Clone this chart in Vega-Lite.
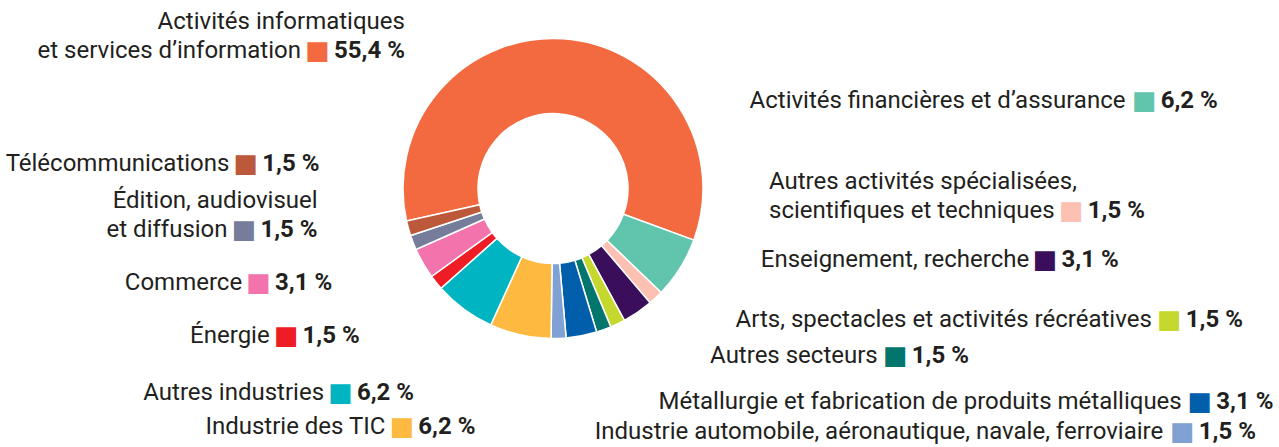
{
  "$schema": "https://vega.github.io/schema/vega-lite/v6.json",
  "width": 1106,
  "height": 377,
  "autosize": {"type": "none"},
  "padding": {"left": 0, "top": 0, "right": 173, "bottom": 70},
  "background": "#ffffff",
  "config": {
    "view": {"stroke": null},
    "text": {"font": "Roboto", "fontSize": 24, "fill": "#231F20", "baseline": "middle"}
  },
  "data": {
    "values": [
      {"k": 1, "name": "Activités informatiques\net services d’information", "share": 55.4},
      {"k": 2, "name": "Activités financières et d’assurance", "share": 6.2},
      {"k": 3, "name": "Autres activités spécialisées,\nscientifiques et techniques", "share": 1.5},
      {"k": 4, "name": "Enseignement, recherche", "share": 3.1},
      {"k": 5, "name": "Arts, spectacles et activités récréatives", "share": 1.5},
      {"k": 6, "name": "Autres secteurs", "share": 1.5},
      {"k": 7, "name": "Métallurgie et fabrication de produits métalliques", "share": 3.1},
      {"k": 8, "name": "Industrie automobile, aéronautique, navale, ferroviaire", "share": 1.5},
      {"k": 9, "name": "Industrie des TIC", "share": 6.2},
      {"k": 10, "name": "Autres industries", "share": 6.2},
      {"k": 11, "name": "Énergie", "share": 1.5},
      {"k": 12, "name": "Commerce", "share": 3.1},
      {"k": 13, "name": "Édition, audiovisuel\net diffusion", "share": 1.5},
      {"k": 14, "name": "Télécommunications", "share": 1.5}
    ]
  },
  "resolve": {"scale": {"theta": "independent"}},
  "layer": [
    {
      "mark": {"type": "arc", "innerRadius": 75, "outerRadius": 150, "stroke": "#ffffff", "strokeWidth": 1.5},
      "encoding": {
        "theta": {"field": "share", "type": "quantitative", "stack": true, "scale": {"domain": [0, 93.8], "range": [-1.789, 4.4942]}},
        "order": {"field": "k", "type": "quantitative"},
        "color": {"field": "k", "type": "ordinal", "legend": null, "scale": {"domain": [1,2,3,4,5,6,7,8,9,10,11,12,13,14], "range": ["#F46A40","#61C5AE","#FCC1B2","#3A0E5A","#C4D82E","#02766D","#005EAB","#7FA1D4","#FEB940","#00B5C1","#EE1C25","#F373AC","#757D9A","#BC593A"]}}
      }
    },
    {
      "transform": [{"filter": {"field": "k", "range": [2, 8]}}],
      "mark": {"type": "text", "radius": 246, "align": "left", "dx": -30, "dy": -6.5,
        "text": {"expr": "indexof(datum.name, '\\n') >= 0 ? substring(datum.name, 0, indexof(datum.name, '\\n')) : ''"}},
      "encoding": {
        "theta": {"field": "share", "type": "quantitative", "stack": true, "scale": {"type": "pow", "exponent": 1.15, "domain": [0, 18.4], "range": [0.9088, 2.9404]}},
        "order": {"field": "k", "type": "quantitative"},
        "detail": {"field": "k", "type": "nominal"}
      }
    },
    {
      "transform": [{"filter": {"field": "k", "range": [2, 8]}}],
      "mark": {"type": "text", "radius": 246, "align": "left", "dx": -30,
        "dy": {"expr": "indexof(datum.name, '\\n') >= 0 ? 22.5 : 8"},
        "text": {"expr": "substring(datum.name, lastindexof(datum.name, '\\n') + 1)"}},
      "encoding": {
        "theta": {"field": "share", "type": "quantitative", "stack": true, "scale": {"type": "pow", "exponent": 1.15, "domain": [0, 18.4], "range": [0.9088, 2.9404]}},
        "order": {"field": "k", "type": "quantitative"},
        "detail": {"field": "k", "type": "nominal"}
      }
    },
    {
      "transform": [{"filter": {"field": "k", "range": [2, 8]}}],
      "mark": {"type": "text", "radius": 246, "align": "center", "font": "DejaVu Sans", "fontSize": 26, "text": "■",
        "dy": {"expr": "indexof(datum.name, '\\n') >= 0 ? 22.5 : 8"},
        "dx": {"expr": "-30 + 17 + (24.6/2048) * (1100*length(substring(datum.name, lastindexof(datum.name, '\\n') + 1)) - 614*(length(split(substring(datum.name, lastindexof(datum.name, '\\n') + 1), regexp('[ilj]'))) - 1) - 603*(length(split(substring(datum.name, lastindexof(datum.name, '\\n') + 1), ' ')) - 1) - 707*(length(split(substring(datum.name, lastindexof(datum.name, '\\n') + 1), regexp('[,’]'))) - 1) - 423*(length(split(substring(datum.name, lastindexof(datum.name, '\\n') + 1), regexp('[tfr]'))) - 1) + 653*(length(split(substring(datum.name, lastindexof(datum.name, '\\n') + 1), 'm')) - 1) + 402*(length(split(substring(datum.name, lastindexof(datum.name, '\\n') + 1), 'w')) - 1) - 105*(length(split(substring(datum.name, lastindexof(datum.name, '\\n') + 1), regexp('[ckvxyz]'))) - 1) - 55*(length(split(substring(datum.name, lastindexof(datum.name, '\\n') + 1), regexp('[eséèêë]'))) - 1) + 25*(length(split(substring(datum.name, lastindexof(datum.name, '\\n') + 1), regexp('[bdgpqo]'))) - 1) + 236*(length(split(substring(datum.name, lastindexof(datum.name, '\\n') + 1), 'A')) - 1) + 64*(length(split(substring(datum.name, lastindexof(datum.name, '\\n') + 1), 'E')) - 1) + 688*(length(split(substring(datum.name, lastindexof(datum.name, '\\n') + 1), 'M')) - 1) - 543*(length(split(substring(datum.name, lastindexof(datum.name, '\\n') + 1), 'I')) - 1))"}},
      "encoding": {
        "theta": {"field": "share", "type": "quantitative", "stack": true, "scale": {"type": "pow", "exponent": 1.15, "domain": [0, 18.4], "range": [0.9088, 2.9404]}},
        "order": {"field": "k", "type": "quantitative"},
        "color": {"field": "k", "type": "ordinal", "legend": null, "scale": {"domain": [1,2,3,4,5,6,7,8,9,10,11,12,13,14], "range": ["#F46A40","#61C5AE","#FCC1B2","#3A0E5A","#C4D82E","#02766D","#005EAB","#7FA1D4","#FEB940","#00B5C1","#EE1C25","#F373AC","#757D9A","#BC593A"]}}
      }
    },
    {
      "transform": [{"filter": {"field": "k", "range": [2, 8]}}],
      "mark": {"type": "text", "radius": 246, "align": "left", "fontWeight": "bold",
        "dy": {"expr": "indexof(datum.name, '\\n') >= 0 ? 22.5 : 8"},
        "dx": {"expr": "-30 + 33.5 + (24.6/2048) * (1100*length(substring(datum.name, lastindexof(datum.name, '\\n') + 1)) - 614*(length(split(substring(datum.name, lastindexof(datum.name, '\\n') + 1), regexp('[ilj]'))) - 1) - 603*(length(split(substring(datum.name, lastindexof(datum.name, '\\n') + 1), ' ')) - 1) - 707*(length(split(substring(datum.name, lastindexof(datum.name, '\\n') + 1), regexp('[,’]'))) - 1) - 423*(length(split(substring(datum.name, lastindexof(datum.name, '\\n') + 1), regexp('[tfr]'))) - 1) + 653*(length(split(substring(datum.name, lastindexof(datum.name, '\\n') + 1), 'm')) - 1) + 402*(length(split(substring(datum.name, lastindexof(datum.name, '\\n') + 1), 'w')) - 1) - 105*(length(split(substring(datum.name, lastindexof(datum.name, '\\n') + 1), regexp('[ckvxyz]'))) - 1) - 55*(length(split(substring(datum.name, lastindexof(datum.name, '\\n') + 1), regexp('[eséèêë]'))) - 1) + 25*(length(split(substring(datum.name, lastindexof(datum.name, '\\n') + 1), regexp('[bdgpqo]'))) - 1) + 236*(length(split(substring(datum.name, lastindexof(datum.name, '\\n') + 1), 'A')) - 1) + 64*(length(split(substring(datum.name, lastindexof(datum.name, '\\n') + 1), 'E')) - 1) + 688*(length(split(substring(datum.name, lastindexof(datum.name, '\\n') + 1), 'M')) - 1) - 543*(length(split(substring(datum.name, lastindexof(datum.name, '\\n') + 1), 'I')) - 1))"},
        "text": {"expr": "replace(format(datum.share, '.1f'), '.', ',') + ' %'"}},
      "encoding": {
        "theta": {"field": "share", "type": "quantitative", "stack": true, "scale": {"type": "pow", "exponent": 1.15, "domain": [0, 18.4], "range": [0.9088, 2.9404]}},
        "order": {"field": "k", "type": "quantitative"},
        "detail": {"field": "k", "type": "nominal"}
      }
    },
    {
      "transform": [{"filter": {"field": "k", "range": [9, 14]}}],
      "mark": {"type": "text", "radius": 244, "align": "right", "dx": 8, "dy": -4.5,
        "text": {"expr": "indexof(datum.name, '\\n') >= 0 ? substring(datum.name, 0, indexof(datum.name, '\\n')) : ''"}},
      "encoding": {
        "theta": {"field": "share", "type": "quantitative", "stack": true, "scale": {"type": "pow", "exponent": 2, "domain": [0, 20], "range": [3.4638, 4.963]}},
        "order": {"field": "k", "type": "quantitative"},
        "detail": {"field": "k", "type": "nominal"}
      }
    },
    {
      "transform": [{"filter": {"field": "k", "range": [9, 14]}}],
      "mark": {"type": "text", "radius": 244, "align": "right", "dx": -82,
        "dy": {"expr": "indexof(datum.name, '\\n') >= 0 ? 24.5 : 10"},
        "text": {"expr": "substring(datum.name, lastindexof(datum.name, '\\n') + 1)"}},
      "encoding": {
        "theta": {"field": "share", "type": "quantitative", "stack": true, "scale": {"type": "pow", "exponent": 2, "domain": [0, 20], "range": [3.4638, 4.963]}},
        "order": {"field": "k", "type": "quantitative"},
        "detail": {"field": "k", "type": "nominal"}
      }
    },
    {
      "transform": [{"filter": {"field": "k", "range": [9, 14]}}],
      "mark": {"type": "text", "radius": 244, "align": "center", "font": "DejaVu Sans", "fontSize": 26, "text": "■", "dx": -65.5,
        "dy": {"expr": "indexof(datum.name, '\\n') >= 0 ? 24.5 : 10"}},
      "encoding": {
        "theta": {"field": "share", "type": "quantitative", "stack": true, "scale": {"type": "pow", "exponent": 2, "domain": [0, 20], "range": [3.4638, 4.963]}},
        "order": {"field": "k", "type": "quantitative"},
        "color": {"field": "k", "type": "ordinal", "legend": null, "scale": {"domain": [1,2,3,4,5,6,7,8,9,10,11,12,13,14], "range": ["#F46A40","#61C5AE","#FCC1B2","#3A0E5A","#C4D82E","#02766D","#005EAB","#7FA1D4","#FEB940","#00B5C1","#EE1C25","#F373AC","#757D9A","#BC593A"]}}
      }
    },
    {
      "transform": [{"filter": {"field": "k", "range": [9, 14]}}],
      "mark": {"type": "text", "radius": 244, "align": "right", "fontWeight": "bold", "dx": 8,
        "dy": {"expr": "indexof(datum.name, '\\n') >= 0 ? 24.5 : 10"},
        "text": {"expr": "replace(format(datum.share, '.1f'), '.', ',') + ' %'"}},
      "encoding": {
        "theta": {"field": "share", "type": "quantitative", "stack": true, "scale": {"type": "pow", "exponent": 2, "domain": [0, 20], "range": [3.4638, 4.963]}},
        "order": {"field": "k", "type": "quantitative"},
        "detail": {"field": "k", "type": "nominal"}
      }
    },
    {
      "transform": [{"filter": {"field": "k", "equal": 1}}],
      "mark": {"type": "text", "radius": 212, "align": "right", "dy": -14.5,
        "text": {"expr": "substring(datum.name, 0, indexof(datum.name, '\\n'))"}},
      "encoding": {
        "theta": {"field": "share", "type": "quantitative", "stack": true, "scale": {"domain": [0, 55.4], "range": [5.41, 5.61]}},
        "order": {"field": "k", "type": "quantitative"},
        "detail": {"field": "k", "type": "nominal"}
      }
    },
    {
      "transform": [{"filter": {"field": "k", "equal": 1}}],
      "mark": {"type": "text", "radius": 212, "align": "right", "dx": -104, "dy": 14.5,
        "text": {"expr": "substring(datum.name, lastindexof(datum.name, '\\n') + 1)"}},
      "encoding": {
        "theta": {"field": "share", "type": "quantitative", "stack": true, "scale": {"domain": [0, 55.4], "range": [5.41, 5.61]}},
        "order": {"field": "k", "type": "quantitative"},
        "detail": {"field": "k", "type": "nominal"}
      }
    },
    {
      "transform": [{"filter": {"field": "k", "equal": 1}}],
      "mark": {"type": "text", "radius": 212, "align": "center", "font": "DejaVu Sans", "fontSize": 26, "text": "■", "dx": -87.5, "dy": 14.5},
      "encoding": {
        "theta": {"field": "share", "type": "quantitative", "stack": true, "scale": {"domain": [0, 55.4], "range": [5.41, 5.61]}},
        "order": {"field": "k", "type": "quantitative"},
        "color": {"field": "k", "type": "ordinal", "legend": null, "scale": {"domain": [1,2,3,4,5,6,7,8,9,10,11,12,13,14], "range": ["#F46A40","#61C5AE","#FCC1B2","#3A0E5A","#C4D82E","#02766D","#005EAB","#7FA1D4","#FEB940","#00B5C1","#EE1C25","#F373AC","#757D9A","#BC593A"]}}
      }
    },
    {
      "transform": [{"filter": {"field": "k", "equal": 1}}],
      "mark": {"type": "text", "radius": 212, "align": "right", "fontWeight": "bold", "dy": 14.5,
        "text": {"expr": "replace(format(datum.share, '.1f'), '.', ',') + ' %'"}},
      "encoding": {
        "theta": {"field": "share", "type": "quantitative", "stack": true, "scale": {"domain": [0, 55.4], "range": [5.41, 5.61]}},
        "order": {"field": "k", "type": "quantitative"},
        "detail": {"field": "k", "type": "nominal"}
      }
    }
  ]
}
